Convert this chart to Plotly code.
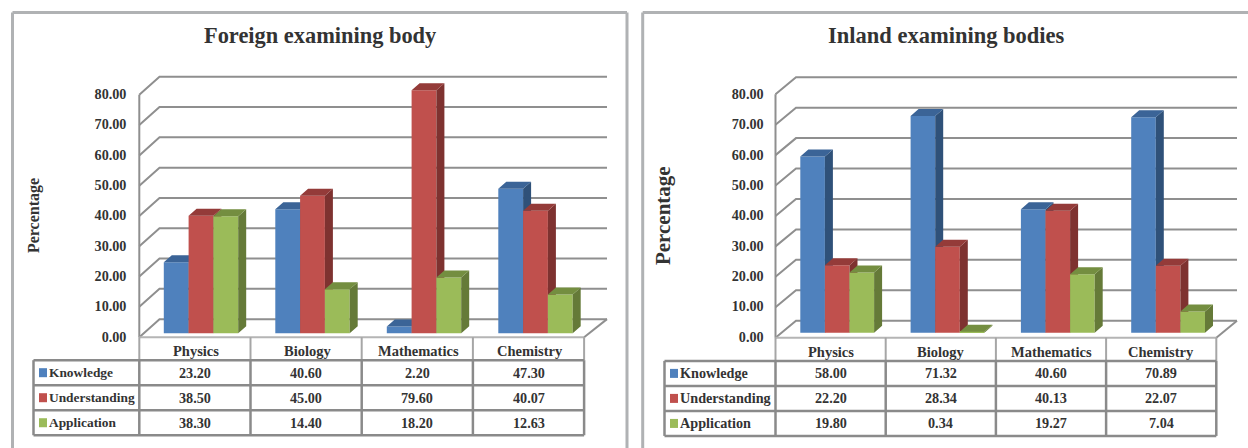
import plotly.graph_objects as go

categories = ["Physics", "Biology", "Mathematics", "Chemistry"]
series_names = ["Knowledge", "Understanding", "Application"]
tick_values = [0, 10, 20, 30, 40, 50, 60, 70, 80]

foreign_title = "Foreign examining body"
foreign_knowledge = [23.20, 40.60, 2.20, 47.30]
foreign_understanding = [38.50, 45.00, 79.60, 40.07]
foreign_application = [38.30, 14.40, 18.20, 12.63]

inland_title = "Inland examining bodies"
inland_knowledge = [58.00, 71.32, 40.60, 70.89]
inland_understanding = [22.20, 28.34, 40.13, 22.07]
inland_application = [19.80, 0.34, 19.27, 7.04]

FRONT = ["#4F81BD", "#C0504D", "#9BBB59"]
SIDE = ["#2F5179", "#7E3230", "#657A38"]
TOP = ["#3B6497", "#943B39", "#748E40"]
GRID = "#8F8F8F"
TABLE = "#8A8A8A"
TEXT = "#333333"
SERIF = "Liberation Serif"
W, H = 1248, 448
Y_STRETCH = 0.0075


def font(size):
    return dict(family=SERIF, size=size, color=TEXT, weight=700)


fig = go.Figure()
shapes, annotations, layout_axes = [], [], {}


def px(x):
    return x / W


def py(y):
    return 1 - (y + Y_STRETCH * (y - 12)) / H


def add_text(x, y, text, size, anchor="center", angle=0):
    annotations.append(dict(xref="paper", yref="paper", x=px(x), y=py(y), text=text,
                            showarrow=False, font=font(size), xanchor=anchor,
                            yanchor="middle", textangle=angle))


def add_line(x0, y0, x1, y1, color, width):
    shapes.append(dict(type="line", xref="paper", yref="paper", x0=px(x0), y0=py(y0),
                       x1=px(x1), y1=py(y1), line=dict(color=color, width=width)))


def panel(first_axis, title, series, g):
    col = g["col"]
    scale = g["scale"]
    base = g["base"]
    ux = lambda p: (p - g["x0"]) / col
    left, right, top, bottom = g["x0"] - 4, g["x_end"] + 5, 70, 342
    xrange_ = [ux(left), ux(right)]
    yrange_ = [(base - bottom) / scale, (base - top) / scale]
    dom_x = [px(left), px(right)]
    dom_y = [py(bottom), py(top)]
    ids = [first_axis + k for k in range(4)]
    name = lambda n: "" if n == 1 else str(n)
    for k, n in enumerate(ids):
        xa = dict(domain=dom_x, range=xrange_, visible=False, fixedrange=True,
                  anchor="y" + name(n))
        ya = dict(domain=dom_y, range=yrange_, fixedrange=True, anchor="x" + name(n),
                  showgrid=False, zeroline=False, showline=False)
        if k == 0:
            ya.update(tickmode="array",
                      tickvals=[v * g["label_scale"] + g["label_shift"] for v in tick_values],
                      ticktext=[f"{v:.2f}" for v in tick_values], tickfont=font(14.2),
                      ticks="outside", ticklen=g["ticklen"], tickcolor="rgba(0,0,0,0)")
        else:
            ya["visible"] = False
            xa["overlaying"] = "x" + name(ids[0])
            ya["overlaying"] = "y" + name(ids[0])
        layout_axes["xaxis" + name(n)] = xa
        layout_axes["yaxis" + name(n)] = ya

    front0 = -(g["front_y"] - base) / scale
    depth_x = (g["back_x"] - g["x0"]) / col
    depth_y = g["back_rise"] / scale
    end = ux(g["x_end"])
    gx, gy = [], []
    for v in tick_values:
        yf = front0 + v * g["grid_scale"]
        gx += [0, depth_x, end, None]
        gy += [yf, yf + depth_y, yf + depth_y, None]
    gx += [len(categories), end, None, 0, 0]
    gy += [front0, front0 + depth_y, None, front0, front0 + 80 * g["grid_scale"]]
    xa0, ya0 = "x" + name(ids[0]), "y" + name(ids[0])
    fig.add_trace(go.Scatter(x=gx, y=gy, mode="lines", line=dict(color=GRID, width=2),
                             xaxis=xa0, yaxis=ya0, showlegend=False, hoverinfo="skip",
                             cliponaxis=False))

    bar_dx = g["bar_dx"] / col
    bar_dy = g["bar_dy"] / scale
    w = g["bar_w"] / col
    start = g["bar_start"] / col
    step = g["bar_col"] / col
    for s, vals in enumerate(series):
        xa, ya = "x" + name(ids[s + 1]), "y" + name(ids[s + 1])
        lefts = [i * step + start + s * w for i in range(len(categories))]
        fig.add_trace(go.Bar(x=[l + w / 2 for l in lefts], y=vals, width=w, name=series_names[s],
                             marker=dict(color=FRONT[s], line=dict(width=0)),
                             xaxis=xa, yaxis=ya, showlegend=False,
                             hovertext=categories, hoverinfo="text+y"))
        sx, sy, tx, ty = [], [], [], []
        for l, v in zip(lefts, vals):
            r = l + w
            sx += [r, r + bar_dx, r + bar_dx, r, r, None]
            sy += [0, bar_dy, v + bar_dy, v, 0, None]
            tx += [l, l + bar_dx, r + bar_dx, r, l, None]
            ty += [v, v + bar_dy, v + bar_dy, v, v, None]
        for fx, fy, c in ((sx, sy, SIDE[s]), (tx, ty, TOP[s])):
            fig.add_trace(go.Scatter(x=fx, y=fy, mode="lines", fill="toself", fillcolor=c,
                                     line=dict(width=0, color=c), xaxis=xa, yaxis=ya,
                                     showlegend=False, hoverinfo="skip", cliponaxis=False))

    add_text(g["title_x"], 36, title, g["title_size"])
    add_text(g["ytitle_x"], 216, "Percentage", g["ytitle_size"], angle=-90)

    x0 = g["x0"]
    verticals = [x0 + i * col for i in range(len(categories) + 1)]
    rows = g["rows"]
    add_line(x0, g["front_y"], verticals[-1], g["front_y"], "#B5B5B5", 2)
    for vx in verticals:
        add_line(vx, g["front_y"], vx, rows[0], "#A6A6A6", 2)
    for ry in rows:
        add_line(g["tbl_left"], ry, verticals[-1], ry, TABLE, 2.5)
    for vx in [g["tbl_left"]] + verticals:
        add_line(vx, rows[0], vx, rows[-1], TABLE, 2.5)
    for i, c in enumerate(categories):
        add_text(x0 + (i + 0.5) * col + g["header_dx"], g["header_y"], c, 14.5)
    for s, vals in enumerate(series):
        cy = (rows[s] + rows[s + 1]) / 2
        shapes.append(dict(type="rect", xref="paper", yref="paper",
                           x0=px(g["tbl_left"] + 5.5), x1=px(g["tbl_left"] + 13.5),
                           y0=py(cy - 4.5), y1=py(cy + 4.5),
                           fillcolor=FRONT[s], line=dict(width=0)))
        add_text(g["tbl_left"] + 13.5, cy, series_names[s], g["label_size"], anchor="left")
        for i, v in enumerate(vals):
            add_text(x0 + (i + 0.5) * col, cy, f"{v:.2f}", 14.2)


panel(1, foreign_title, [foreign_knowledge, foreign_understanding, foreign_application], dict(
    x0=139.3, col=111.2, bar_col=111.5, x_end=607, scale=3.05, base=333, front_y=337, back_x=159.5,
    back_rise=18, grid_scale=0.9926, bar_dx=8, bar_dy=7, bar_w=24.8, bar_start=24.5,
    label_scale=0.9946, label_shift=-1.2, ticklen=5, title_x=320, title_size=22.4,
    ytitle_x=34, ytitle_size=16, rows=[360, 385, 410, 435], tbl_left=33.5, header_y=351, header_dx=1,
    label_size=13.4))

panel(5, inland_title, [inland_knowledge, inland_understanding, inland_application], dict(
    x0=775.5, col=110.2, bar_col=110.3, x_end=1237, scale=3.04, base=332.7, front_y=337.5, back_x=796,
    back_rise=17, grid_scale=1.0, bar_dx=8, bar_dy=7, bar_w=24.6, bar_start=24.8,
    label_scale=0.9979, label_shift=-1.3, ticklen=4, title_x=946, title_size=22.5,
    ytitle_x=663, ytitle_size=21, rows=[360.7, 385.7, 410.7, 435.7], tbl_left=664.5, header_y=351.5,
    header_dx=0, label_size=14.2))

FRAME = "#B0B2B4"
for pts in ([(12.5, 452), (12.5, 12.5), (627, 12.5), (627, 452)],
            [(642.7, 452), (642.7, 12.5), (1252, 12.5)]):
    for a, b in zip(pts, pts[1:]):
        add_line(a[0], a[1], b[0], b[1], FRAME, 3)

fig.update_layout(width=W, height=H, margin=dict(l=0, r=0, t=0, b=0), paper_bgcolor="white",
                  plot_bgcolor="rgba(0,0,0,0)", showlegend=False, shapes=shapes,
                  annotations=annotations, **layout_axes)

fig.write_html("out.html", config=dict(displayModeBar=False),
               post_script="document.body.style.margin='0';document.body.style.overflow='hidden';")
